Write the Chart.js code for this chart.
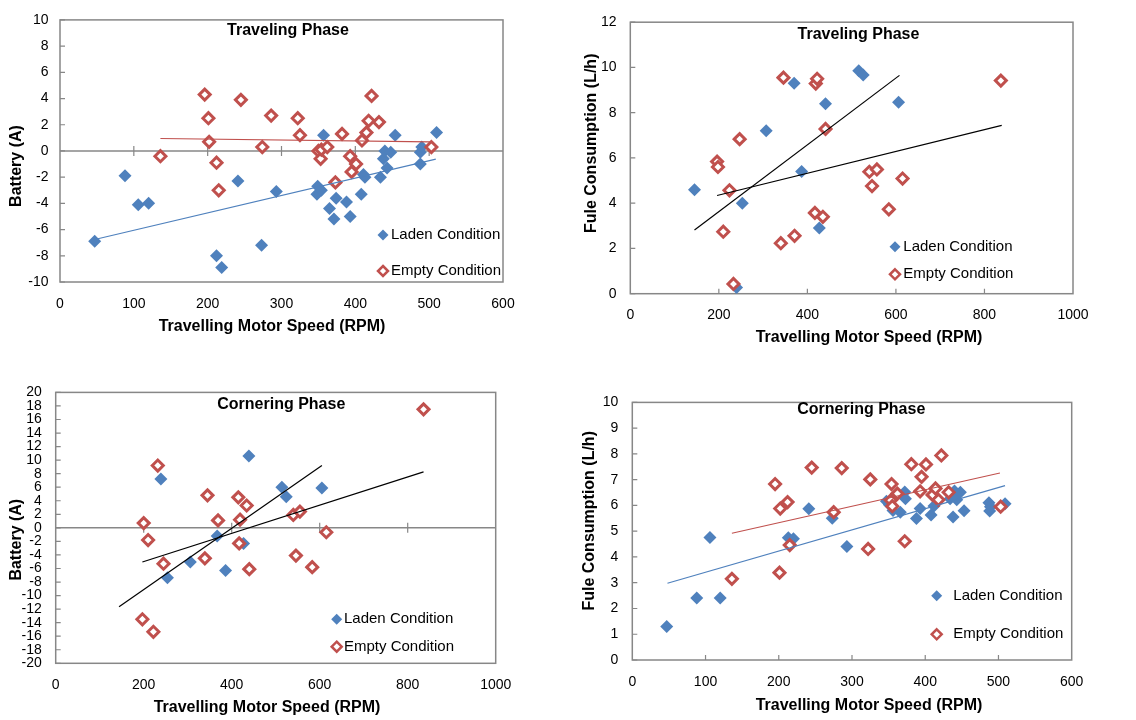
<!DOCTYPE html>
<html lang="en">
<head>
  <meta charset="UTF-8">
  <title>Travelling motor speed - battery and fuel</title>
  <script src="https://cdn.jsdelivr.net/npm/chart.js"></script>
  <style>
    body { margin: 0; background: #fff; }
    canvas { position: absolute; }
  </style>
</head>
<body>
  <canvas id="g1" width="560" height="345" style="left:0;top:0"></canvas>
  <canvas id="g2" width="566" height="350" style="left:570px;top:0"></canvas>
  <canvas id="g3" width="570" height="350" style="left:0;top:370px"></canvas>
  <canvas id="g4" width="566" height="340" style="left:570px;top:380px"></canvas>

  <script>
    // ---- dados ----
    const seriesNames = ['Laden Condition', 'Empty Condition'];
    const speedTitle = 'Travelling Motor Speed (RPM)';

    // traveling phase - battery
    const p1LadenX = [47, 88, 106, 120, 212, 219, 241, 273, 293, 348, 349, 354, 357, 365, 371, 374, 388, 393, 408, 411, 413, 434, 438, 440, 443, 448, 454, 488, 488, 490, 510];
    const p1LadenY = [-6.9, -1.9, -4.1, -4.0, -8.0, -8.9, -2.3, -7.2, -3.1, -3.3, -2.7, -3.0, 1.2, -4.4, -5.2, -3.6, -3.9, -5.0, -3.3, -1.8, -2.0, -2.0, -0.6, 0.0, -1.3, -0.1, 1.2, -1.0, -0.1, 0.3, 1.4];
    const p1EmptyX = [136, 196, 201, 202, 212, 215, 245, 274, 286, 322, 325, 350, 353, 354, 362, 373, 382, 393, 395, 401, 409, 415, 418, 422, 432, 503];
    const p1EmptyY = [-0.4, 4.3, 2.5, 0.7, -0.9, -3.0, 3.9, 0.3, 2.7, 2.5, 1.2, 0.0, -0.6, 0.1, 0.3, -2.4, 1.3, -0.4, -1.6, -1.0, 0.8, 1.4, 2.3, 4.2, 2.2, 0.3];
    const p1LadenTrendX = [47, 509];
    const p1LadenTrendY = [-6.76, -0.62];
    const p1EmptyTrendX = [136, 501];
    const p1EmptyTrendY = [0.95, 0.7];

    // traveling phase - fuel
    const p2LadenX = [145, 240, 253, 307, 370, 387, 427, 441, 516, 526, 606];
    const p2LadenY = [4.6, 0.27, 4.0, 7.2, 9.3, 5.4, 2.9, 8.4, 9.85, 9.67, 8.46];
    const p2EmptyX = [196, 198, 210, 224, 233, 247, 340, 346, 371, 417, 419, 422, 435, 441, 540, 546, 557, 584, 615, 837];
    const p2EmptyY = [5.84, 5.6, 2.74, 4.57, 0.43, 6.83, 2.23, 9.55, 2.56, 3.57, 9.29, 9.5, 3.4, 7.28, 5.39, 4.76, 5.49, 3.73, 5.09, 9.42];
    const p2LadenTrendX = [145, 608];
    const p2LadenTrendY = [2.82, 9.65];
    const p2EmptyTrendX = [196, 839];
    const p2EmptyTrendY = [4.34, 7.44];

    // cornering phase - battery
    const p3LadenX = [239, 254, 306, 367, 386, 427, 439, 514, 524, 605];
    const p3LadenY = [7.2, -7.35, -5.05, -1.2, -6.3, -2.3, 10.6, 6.0, 4.6, 5.9];
    const p3EmptyX = [197, 200, 210, 222, 232, 245, 339, 345, 369, 415, 419, 417, 434, 440, 540, 546, 555, 583, 615, 836];
    const p3EmptyY = [-13.5, 0.7, -1.8, -15.35, 9.2, -5.3, -4.5, 4.8, 1.1, 4.5, 1.2, -2.3, 3.3, -6.1, 1.9, -4.1, 2.4, -5.8, -0.65, 17.5];
    const p3LadenTrendX = [144, 605];
    const p3LadenTrendY = [-11.66, 9.22];
    const p3EmptyTrendX = [197, 836];
    const p3EmptyTrendY = [-5.05, 8.26];

    // cornering phase - fuel
    const p4LadenX = [47, 88, 106, 120, 213, 220, 241, 273, 293, 347, 351, 356, 366, 372, 373, 388, 393, 408, 412, 434, 438, 440, 443, 448, 453, 487, 488, 489, 509];
    const p4LadenY = [1.3, 2.41, 4.76, 2.41, 4.75, 4.71, 5.87, 5.5, 4.41, 6.16, 6.03, 5.8, 5.74, 6.52, 6.26, 5.49, 5.88, 5.63, 5.98, 6.26, 5.55, 6.56, 6.22, 6.51, 5.79, 6.1, 5.78, 5.95, 6.07];
    const p4EmptyX = [136, 195, 201, 202, 212, 215, 245, 275, 286, 322, 325, 353, 354, 355, 362, 372, 381, 393, 395, 401, 410, 414, 418, 422, 432, 503];
    const p4EmptyY = [3.15, 6.83, 3.39, 5.88, 6.13, 4.46, 7.47, 5.74, 7.45, 4.31, 7.01, 6.2, 6.83, 5.97, 6.46, 4.61, 7.6, 6.55, 7.11, 7.59, 6.41, 6.66, 6.22, 7.94, 6.51, 5.95];
    const p4LadenTrendX = [48, 509];
    const p4LadenTrendY = [2.98, 6.77];
    const p4EmptyTrendX = [136, 502];
    const p4EmptyTrendY = [4.92, 7.26];

    const azul = '#4F81BD';
    const vermelho = '#C0504D';
    const fonte = "'Liberation Sans', Arial, sans-serif";

    Chart.defaults.font.family = fonte;
    Chart.defaults.color = '#000';

    function pontos(xs, ys) {
      return xs.map((x, i) => ({ x: x, y: ys[i] }));
    }

    function losango(ctx, x, y, r) {
      ctx.beginPath();
      ctx.moveTo(x, y - r);
      ctx.lineTo(x + r, y);
      ctx.lineTo(x, y + r);
      ctx.lineTo(x - r, y);
      ctx.closePath();
    }

    // moldura, linha do zero, marcas, titulos e legenda dentro do grafico
    const moldura = {
      id: 'moldura',
      beforeDatasetsDraw(chart, args, o) {
        const ctx = chart.ctx;
        const a = chart.chartArea;
        const x = chart.scales.x, y = chart.scales.y;
        ctx.save();
        ctx.strokeStyle = '#878787';
        ctx.lineWidth = 1.5;
        ctx.strokeRect(a.left, a.top, a.right - a.left, a.bottom - a.top);
        let base = a.bottom;
        if (o.zeroLine) {
          base = y.getPixelForValue(0);
          ctx.beginPath();
          ctx.moveTo(a.left, base);
          ctx.lineTo(a.right, base);
          ctx.stroke();
        }
        ctx.lineWidth = 1.2;
        ctx.beginPath();
        y.ticks.forEach(t => {
          const py = y.getPixelForValue(t.value);
          ctx.moveTo(a.left, py);
          ctx.lineTo(a.left + 5, py);
        });
        x.ticks.forEach(t => {
          if (t.value === x.min || t.value === x.max) return;
          const px = x.getPixelForValue(t.value);
          ctx.moveTo(px, base - 5);
          ctx.lineTo(px, o.zeroLine ? base + 5 : base);
        });
        ctx.stroke();
        ctx.restore();
      },
      afterDraw(chart, args, o) {
        const ctx = chart.ctx;
        ctx.save();
        ctx.fillStyle = '#000';
        ctx.textBaseline = 'middle';
        ctx.textAlign = 'center';
        ctx.font = 'bold 16px ' + fonte;
        ctx.fillText(o.title.text, o.title.x, o.title.y);
        ctx.fillText(o.xTitle.text, o.xTitle.x, o.xTitle.y);
        ctx.save();
        ctx.translate(o.yTitle.x, o.yTitle.y);
        ctx.rotate(-Math.PI / 2);
        ctx.fillText(o.yTitle.text, 0, 0);
        ctx.restore();

        // legenda
        const lg = o.legend;
        ctx.font = '15px ' + fonte;
        ctx.textAlign = 'left';
        losango(ctx, lg.mx, lg.y1, 5.5);
        ctx.fillStyle = azul;
        ctx.fill();
        losango(ctx, lg.mx, lg.y2, 5);
        ctx.fillStyle = '#fff';
        ctx.fill();
        ctx.strokeStyle = vermelho;
        ctx.lineWidth = 2.5;
        ctx.stroke();
        ctx.fillStyle = '#000';
        ctx.fillText(chart.data.datasets[2].label, lg.tx, lg.y1);
        ctx.fillText(chart.data.datasets[3].label, lg.tx, lg.y2);
        ctx.restore();
      }
    };

    function grafico(id, c) {
      const canvas = document.getElementById(id);
      const W = canvas.width, H = canvas.height;
      const a = c.area;
      new Chart(canvas, {
        type: 'scatter',
        data: {
          datasets: [
            {
              label: 'trend laden', data: pontos(c.ladenTrendX, c.ladenTrendY), showLine: true,
              pointRadius: 0, borderColor: c.lineColors[0], borderWidth: 1.2, order: 0
            },
            {
              label: 'trend empty', data: pontos(c.emptyTrendX, c.emptyTrendY), showLine: true,
              pointRadius: 0, borderColor: c.lineColors[1], borderWidth: 1.2, order: 0
            },
            {
              label: seriesNames[0], data: pontos(c.ladenX, c.ladenY), pointStyle: 'rectRot',
              pointRadius: 6.5, backgroundColor: azul, borderColor: azul, borderWidth: 0, order: 2
            },
            {
              label: seriesNames[1], data: pontos(c.emptyX, c.emptyY), pointStyle: 'rectRot',
              pointRadius: 5.5, backgroundColor: '#fff', borderColor: vermelho, borderWidth: 3, order: 1
            }
          ]
        },
        options: {
          responsive: false,
          animation: false,
          events: [],
          layout: { padding: { left: 0, top: a.t, right: W - a.r, bottom: 0 } },
          scales: {
            x: {
              type: 'linear', min: c.xRange[0], max: c.xRange[1],
              grid: { display: false, drawTicks: false }, border: { display: false },
              ticks: { stepSize: c.xRange[2], font: { size: 14 }, padding: c.padX, maxRotation: 0, callback: v => String(v) },
              afterFit: s => { s.height = H - a.b; }
            },
            y: {
              type: 'linear', min: c.yRange[0], max: c.yRange[1],
              grid: { display: false, drawTicks: false }, border: { display: false },
              ticks: { stepSize: c.yRange[2], font: { size: 14 }, padding: c.padY, autoSkip: false, callback: v => String(v) },
              afterFit: s => { s.width = a.l; }
            }
          },
          plugins: {
            legend: { display: false },
            tooltip: { enabled: false },
            moldura: {
              zeroLine: c.zeroLine,
              title: c.title,
              xTitle: { text: speedTitle, x: c.xTitle[0], y: c.xTitle[1] },
              yTitle: c.yTitle,
              legend: c.legend
            }
          }
        },
        plugins: [moldura]
      });
    }

    grafico('g1', {
      area: { l: 60, t: 15, r: 503, b: 282 },
      xRange: [0, 600, 100], yRange: [-10, 10, 2], padX: 13.6, padY: 11.5, zeroLine: true,
      ladenX: p1LadenX, ladenY: p1LadenY, emptyX: p1EmptyX, emptyY: p1EmptyY,
      ladenTrendX: p1LadenTrendX, ladenTrendY: p1LadenTrendY, emptyTrendX: p1EmptyTrendX, emptyTrendY: p1EmptyTrendY,
      lineColors: [azul, vermelho],
      title: { text: 'Traveling Phase', x: 288, y: 31 },
      xTitle: [272, 327],
      yTitle: { text: 'Battery (A)', x: 17, y: 166 },
      legend: { mx: 383, y1: 235, y2: 271, tx: 391 }
    });

    grafico('g2', {
      area: { l: 60.3, t: 16, r: 503, b: 293.7 },
      xRange: [0, 1000, 200], yRange: [0, 12, 2], padX: 13.2, padY: 13.8, zeroLine: false,
      ladenX: p2LadenX, ladenY: p2LadenY, emptyX: p2EmptyX, emptyY: p2EmptyY,
      ladenTrendX: p2LadenTrendX, ladenTrendY: p2LadenTrendY, emptyTrendX: p2EmptyTrendX, emptyTrendY: p2EmptyTrendY,
      lineColors: ['#000', '#000'],
      title: { text: 'Traveling Phase', x: 288.5, y: 34.3 },
      xTitle: [299, 338],
      yTitle: { text: 'Fule Consumption (L/h)', x: 21.7, y: 143.3 },
      legend: { mx: 325, y1: 246.7, y2: 274.3, tx: 333.3 }
    });

    grafico('g3', {
      area: { l: 55.7, t: 15, r: 495.7, b: 293.3 },
      xRange: [0, 1000, 200], yRange: [-20, 20, 2], padX: 13.3, padY: 14, zeroLine: true,
      ladenX: p3LadenX, ladenY: p3LadenY, emptyX: p3EmptyX, emptyY: p3EmptyY,
      ladenTrendX: p3LadenTrendX, ladenTrendY: p3LadenTrendY, emptyTrendX: p3EmptyTrendX, emptyTrendY: p3EmptyTrendY,
      lineColors: ['#000', '#000'],
      title: { text: 'Cornering Phase', x: 281.3, y: 35 },
      xTitle: [267, 338],
      yTitle: { text: 'Battery (A)', x: 17, y: 169.7 },
      legend: { mx: 336.7, y1: 249.3, y2: 276.7, tx: 344 }
    });

    grafico('g4', {
      area: { l: 62.3, t: 14.7, r: 501.7, b: 280 },
      xRange: [0, 600, 100], yRange: [0, 10, 1], padX: 13.3, padY: 14, zeroLine: false,
      ladenX: p4LadenX, ladenY: p4LadenY, emptyX: p4EmptyX, emptyY: p4EmptyY,
      ladenTrendX: p4LadenTrendX, ladenTrendY: p4LadenTrendY, emptyTrendX: p4EmptyTrendX, emptyTrendY: p4EmptyTrendY,
      lineColors: [azul, vermelho],
      title: { text: 'Cornering Phase', x: 291.3, y: 30 },
      xTitle: [299, 326],
      yTitle: { text: 'Fule Consumption (L/h)', x: 20, y: 140.8 },
      legend: { mx: 366.7, y1: 215.7, y2: 254.3, tx: 383.3 }
    });
  </script>
</body>
</html>
